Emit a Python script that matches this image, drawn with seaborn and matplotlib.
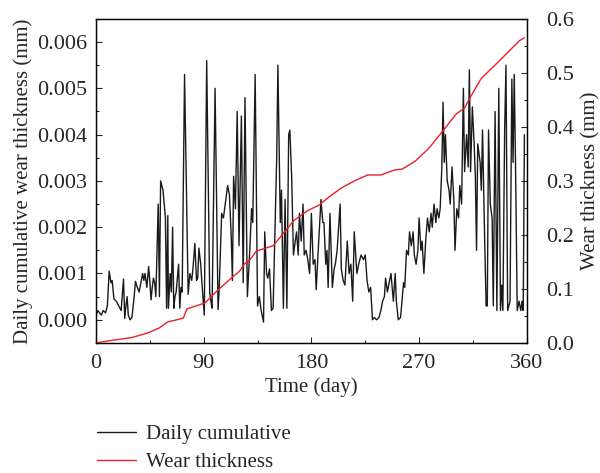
import numpy as np
import pandas as pd
import matplotlib
matplotlib.use("Agg")
import matplotlib.pyplot as plt
from matplotlib.ticker import MultipleLocator
from matplotlib.lines import Line2D
import seaborn as sns

sns.set_style("ticks")
plt.rcParams["font.family"] = ["Liberation Serif", "DejaVu Serif"]
plt.rcParams["font.size"] = 15

# daily cumulative wear (day / mm)
daily_day = [0, 1.5, 3, 4.5, 6, 8, 9.5, 11, 12.5, 13.5, 15, 17, 19, 21, 23, 24, 25, 26, 27, 28.5,
             30, 31.5, 33, 34.5, 36, 37.5, 39, 40, 41, 42.5, 44, 45, 46, 47, 48, 49, 50, 52, 53, 54,
             55, 56, 57, 58, 59, 60, 60.5, 62, 63, 64, 65, 66, 67, 69, 70, 71, 72, 74, 77, 78.5,
             80, 81, 82.6, 84, 85, 86, 87.5, 88.5, 90.5, 92.5, 95, 96, 97, 99.5, 102, 103, 105, 106.5, 108, 110,
             111.5, 113, 114, 115, 116.5, 118, 119.5, 121.5, 123, 124.5, 126.5, 128.5, 130, 131, 133, 135, 136.5, 138, 140, 141,
             142.5, 143.5, 145, 146.6, 148, 151, 152, 154, 155, 156.6, 158, 159.5, 161, 162, 163.5, 165, 166.5, 167.6, 169, 170,
             171.5, 173, 174, 175.5, 177, 178.5, 180, 181.5, 183, 184, 185.7, 188, 189.5, 190.5, 192, 193, 194, 195.5, 197.5, 199,
             200, 201.5, 204, 205, 206.5, 208, 210, 211.5, 213, 214.5, 215.8, 218, 219.5, 221.5, 223.5, 225, 226.5, 228, 229.5, 231,
             232.5, 234.5, 236.5, 238, 239.5, 241, 242, 243.5, 245, 246.5, 247.5, 248.5, 250, 251, 252.6, 254.5, 256, 257, 258, 259.5,
             261, 262, 263.5, 265, 266, 267.5, 269, 270, 271.5, 272.5, 274, 275.5, 277, 278.5, 280, 281, 282.5, 284, 285, 286.5,
             287.6, 289, 290, 291, 292, 293.5, 295, 296, 297.5, 299, 300, 301.5, 303, 304, 305.5, 307, 308, 309.7, 311, 312,
             313, 314.5, 316, 317, 318, 319, 321, 322, 323, 324.5, 326, 327, 328, 329.5, 331, 332, 333.5, 335, 336.6, 338,
             339, 340, 341.5, 342.6, 344, 345, 346, 347.5, 348.5, 349.5, 350.6, 352, 353.5, 355, 356, 357, 358]
daily_mm = [0.0001, 0.0002, 0.00015, 0.0001, 0.0002, 0.00015, 0.0003, 0.00105, 0.0008, 0.00085,
            0.00045, 0.0004, 0.0003, 0.0002, 0.00088, 0.00003, 0.0003, 0.0005, 0.0001, 0.0,
            0.00005, 0.0004, 0.00083, 0.0007, 0.0006, 0.0008, 0.001, 0.00085, 0.001, 0.0007,
            0.00115, 0.00083, 0.00043, 0.0007, 0.0009, 0.0008, 0.0005, 0.0025, 0.0005, 0.003,
            0.0029, 0.0028, 0.0025, 0.0022, 0.00025, 0.00225, 0.00025, 0.001, 0.0006, 0.002,
            0.00025, 0.0005, 0.0006, 0.0012, 0.00025, 0.0007, 0.0006, 0.0053, 0.00055, 0.001,
            0.00085, 0.0011, 0.00165, 0.00085, 0.0009, 0.00155, 0.0012, 0.0008, 0.0001, 0.0056,
            0.0006, 0.0004, 0.00025, 0.005, 0.00022, 0.0007, 0.0023, 0.0022, 0.0025, 0.0029,
            0.0027, 0.0018, 0.00085, 0.0031, 0.0024, 0.0045, 0.0016, 0.0044, 0.0008, 0.0048,
            0.0005, 0.0015, 0.0024, 0.0021, 0.0053, 0.0003, 0.0005, 0.0002, -0.00005, 0.0019,
            0.001, 0.0009, 0.0011, 0.0002, 0.00025, 0.0035, 0.0055, 0.0021, 0.0028, 0.00025,
            0.0026, 0.00025, 0.004, 0.0041, 0.0031, 0.0014, 0.0017, 0.0019, 0.0014, 0.0023,
            0.0017, 0.0025, 0.0014, 0.0015, 0.0013, 0.001, 0.0023, 0.0012, 0.0013, 0.00065,
            0.0015, 0.0026, 0.0021, 0.0021, 0.0012, 0.0015, 0.0007, 0.0023, 0.0007, 0.0011,
            0.0012, 0.0015, 0.0025, 0.0011, 0.00085, 0.00075, 0.0017, 0.001, 0.0012, 0.0004,
            0.0019, 0.001, 0.0012, 0.0014, 0.0013, 0.0014, 0.00085, 0.0006, 0.0007, 0.0,
            0.00005, 0.0, 0.00005, 0.0002, 0.0004, 0.0005, 0.0009, 0.0006, 0.0008, 0.001,
            0.0007, 0.0004, 0.001, 0.0004, 0.0, 0.00005, 0.0005, 0.0008, 0.0007, 0.0015,
            0.0014, 0.0019, 0.0016, 0.0019, 0.0014, 0.0012, 0.0015, 0.0022, 0.0015, 0.0017,
            0.001, 0.0017, 0.0022, 0.0019, 0.0023, 0.002, 0.0025, 0.0021, 0.0024, 0.0022,
            0.0024, 0.0033, 0.0047, 0.0034, 0.004, 0.003, 0.0028, 0.0025, 0.0033, 0.0026,
            0.0015, 0.0024, 0.0022, 0.0029, 0.0025, 0.005, 0.0032, 0.004, 0.0033, 0.0054,
            0.0032, 0.0046, 0.0038, 0.0031, 0.0015, 0.0038, 0.0034, 0.0028, 0.0041, 0.0021,
            0.0003, 0.0003, 0.0041, 0.0025, 0.0022, 0.0003, 0.0045, 0.0002, 0.005, 0.0002,
            0.00075, 0.0002, 0.0041, 0.0055, 0.0002, 0.0003, 0.0004, 0.0052, 0.0034, 0.0053,
            0.0033, 0.0002, 0.0004, 0.0002, 0.0004, 0.0002, 0.004]

# total wear thickness (right axis)
wear_day = [0, 11, 30, 44, 53, 60, 66, 73, 76, 91, 101, 113, 120, 124, 129, 134, 148, 157, 165, 176,
            187, 194, 205, 216, 227, 238, 249, 256, 267, 278, 290, 301, 308, 312, 322, 336, 345, 354, 358]
wear_mm = [0.0, 0.004, 0.01, 0.019, 0.028, 0.039, 0.042, 0.046, 0.063, 0.074, 0.096, 0.12, 0.133, 0.146,
           0.155, 0.17, 0.18, 0.204, 0.226, 0.244, 0.256, 0.269, 0.287, 0.30, 0.311, 0.311, 0.32, 0.322,
           0.337, 0.36, 0.393, 0.424, 0.435, 0.452, 0.49, 0.52, 0.54, 0.56, 0.565]

daily = pd.DataFrame({"day": daily_day, "mm": daily_mm})
wear = pd.DataFrame({"day": wear_day, "mm": wear_mm})

fig, ax = plt.subplots(figsize=(6, 4.73), dpi=100)
fig.subplots_adjust(left=0.16, right=0.878, top=0.96, bottom=0.275)
ax2 = ax.twinx()

sns.lineplot(data=daily, x="day", y="mm", ax=ax, color="#1a1a1a", lw=1.0,
             estimator=None, sort=False)
sns.lineplot(data=wear, x="day", y="mm", ax=ax2, color="#e8202a", lw=1.0,
             estimator=None, sort=False)

ax.set_xlim(0, 360)
ax.set_ylim(-0.0005, 0.0065)
ax2.set_ylim(0, 0.6)
ax.set_xticks([0, 90, 180, 270, 360])
ax.xaxis.set_minor_locator(MultipleLocator(45))
ax.set_yticks(np.arange(0, 0.0061, 0.001))
ax.yaxis.set_minor_locator(MultipleLocator(0.0005))
ax.set_yticklabels([f"{v:.3f}" for v in np.arange(0, 0.0061, 0.001)])
ax2.set_yticks(np.arange(0, 0.61, 0.1))
ax2.set_yticklabels([f"{v:.1f}" for v in np.arange(0, 0.61, 0.1)])
ax2.yaxis.set_minor_locator(MultipleLocator(0.05))

for a in (ax, ax2):
    a.tick_params(which="both", direction="in", width=0.8, labelsize=16)
    a.tick_params(which="major", length=4)
    a.tick_params(which="minor", length=2.5)
    for s in a.spines.values():
        s.set_linewidth(0.9)
        s.set_color("black")
ax.tick_params(axis="y", right=False, pad=6.5)
ax.tick_params(axis="x", pad=8)
ax2.tick_params(axis="y", left=False, pad=14)

ax.set_xlabel("Time (day)", labelpad=3)
ax.set_ylabel("Daily cumulative wear thickness (mm)", labelpad=3)
ax2.set_ylabel("Wear thickness (mm)", labelpad=5)

handles = [Line2D([], [], color="#1a1a1a", lw=1.0),
           Line2D([], [], color="#e8202a", lw=1.0)]
fig.legend(handles, ["Daily cumulative", "Wear thickness"], loc="lower left",
           bbox_to_anchor=(0.141, -0.025), frameon=False, handlelength=1.85,
           handletextpad=0.5, labelspacing=0.42, borderaxespad=0.2)

fig.savefig("out.png", dpi=100)
